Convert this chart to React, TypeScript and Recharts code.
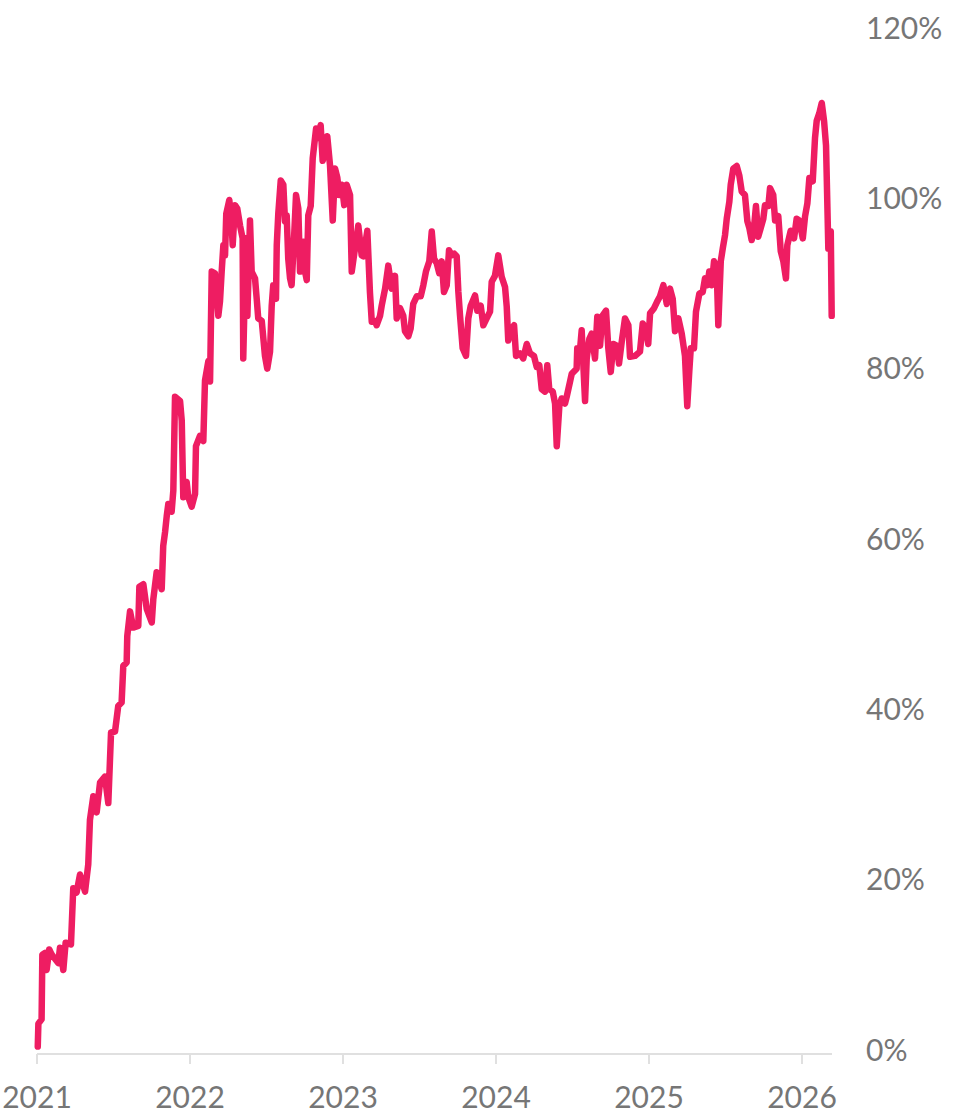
import { LineChart, Line, XAxis, YAxis } from "recharts";

// decimal years
const years = [
  2021.005, 2021.009, 2021.03, 2021.035, 2021.052, 2021.063, 2021.08, 2021.096, 2021.139, 2021.15,
  2021.172, 2021.187, 2021.222, 2021.237, 2021.259, 2021.281, 2021.314, 2021.335, 2021.346, 2021.368,
  2021.39, 2021.412, 2021.444, 2021.466, 2021.484, 2021.51, 2021.531, 2021.553, 2021.564, 2021.586,
  2021.59, 2021.608, 2021.629, 2021.662, 2021.669, 2021.695, 2021.717, 2021.75, 2021.76, 2021.782,
  2021.815, 2021.825, 2021.837, 2021.848, 2021.858, 2021.88, 2021.891, 2021.902, 2021.935, 2021.946,
  2021.956, 2021.978, 2021.989, 2022.011, 2022.033, 2022.039, 2022.065, 2022.087, 2022.098, 2022.12,
  2022.131, 2022.142, 2022.163, 2022.185, 2022.196, 2022.207, 2022.218, 2022.229, 2022.237, 2022.257,
  2022.273, 2022.279, 2022.294, 2022.309, 2022.327, 2022.344, 2022.348, 2022.366, 2022.375, 2022.392,
  2022.403, 2022.425, 2022.436, 2022.446, 2022.469, 2022.49, 2022.505, 2022.523, 2022.534, 2022.544,
  2022.562, 2022.567, 2022.577, 2022.593, 2022.61, 2022.621, 2022.632, 2022.642, 2022.654, 2022.664,
  2022.68, 2022.693, 2022.708, 2022.719, 2022.741, 2022.752, 2022.763, 2022.773, 2022.789, 2022.802,
  2022.824, 2022.839, 2022.854, 2022.867, 2022.882, 2022.897, 2022.915, 2022.933, 2022.948, 2022.963,
  2022.976, 2022.992, 2023.008, 2023.024, 2023.046, 2023.057, 2023.072, 2023.1, 2023.122, 2023.133,
  2023.159, 2023.176, 2023.188, 2023.209, 2023.22, 2023.242, 2023.253, 2023.275, 2023.296, 2023.318,
  2023.34, 2023.351, 2023.373, 2023.394, 2023.405, 2023.427, 2023.442, 2023.459, 2023.482, 2023.508,
  2023.525, 2023.542, 2023.564, 2023.58, 2023.595, 2023.612, 2023.629, 2023.645, 2023.66, 2023.678,
  2023.693, 2023.71, 2023.727, 2023.743, 2023.754, 2023.765, 2023.782, 2023.804, 2023.819, 2023.835,
  2023.863, 2023.878, 2023.9, 2023.917, 2023.939, 2023.961, 2023.972, 2023.993, 2024.015, 2024.037,
  2024.059, 2024.07, 2024.08, 2024.103, 2024.118, 2024.131, 2024.157, 2024.178, 2024.201, 2024.222,
  2024.248, 2024.266, 2024.283, 2024.299, 2024.32, 2024.335, 2024.348, 2024.371, 2024.386, 2024.397,
  2024.414, 2024.429, 2024.451, 2024.462, 2024.484, 2024.495, 2024.527, 2024.531, 2024.544, 2024.56,
  2024.582, 2024.593, 2024.61, 2024.625, 2024.647, 2024.662, 2024.68, 2024.695, 2024.719, 2024.734,
  2024.75, 2024.767, 2024.789, 2024.804, 2024.822, 2024.843, 2024.865, 2024.876, 2024.908, 2024.941,
  2024.959, 2024.98, 2024.995, 2025.007, 2025.033, 2025.054, 2025.072, 2025.094, 2025.116, 2025.137,
  2025.155, 2025.17, 2025.192, 2025.214, 2025.235, 2025.25, 2025.263, 2025.273, 2025.294, 2025.307,
  2025.329, 2025.351, 2025.366, 2025.381, 2025.394, 2025.41, 2025.425, 2025.442, 2025.453, 2025.469,
  2025.482, 2025.497, 2025.508, 2025.525, 2025.534, 2025.551, 2025.573, 2025.59, 2025.606, 2025.627,
  2025.643, 2025.656, 2025.671, 2025.686, 2025.699, 2025.714, 2025.73, 2025.747, 2025.758, 2025.78,
  2025.791, 2025.812, 2025.824, 2025.845, 2025.861, 2025.878, 2025.895, 2025.904, 2025.926, 2025.948,
  2025.965, 2025.982, 2026.005, 2026.02, 2026.035, 2026.048, 2026.07, 2026.085, 2026.096, 2026.113,
  2026.129, 2026.144, 2026.157, 2026.172, 2026.188, 2026.194,
];

// cumulative return, %
const returns = [
  0.4, 3.1, 3.6, 11.2, 11.4, 9.4, 11.8, 11.2, 10.2, 12.0,
  9.4, 12.6, 12.4, 19.0, 18.5, 20.6, 18.6, 21.8, 27.0, 29.8,
  27.9, 31.4, 32.1, 29.0, 37.3, 37.4, 40.4, 40.8, 45.1, 45.5,
  48.6, 51.5, 49.6, 49.8, 54.4, 54.7, 51.8, 50.2, 52.9, 56.1,
  54.1, 59.2, 60.8, 62.7, 64.1, 63.2, 65.7, 76.7, 76.2, 73.9,
  64.9, 66.7, 64.9, 63.8, 65.3, 70.9, 72.1, 71.5, 78.6, 80.9,
  78.5, 91.4, 91.2, 86.2, 87.9, 91.4, 94.5, 93.3, 98.2, 99.8,
  96.5, 94.5, 99.2, 98.8, 96.8, 95.3, 81.2, 95.3, 86.2, 97.4,
  91.4, 90.6, 88.2, 85.9, 85.6, 81.5, 80.0, 82.0, 87.4, 89.8,
  88.2, 94.5, 98.2, 102.1, 101.6, 97.3, 98.0, 92.9, 90.6, 89.8,
  95.3, 100.4, 98.8, 91.4, 94.9, 91.4, 90.4, 98.0, 99.1, 104.7,
  108.2, 107.1, 108.6, 104.4, 105.3, 107.3, 103.9, 97.4, 103.5, 102.4,
  100.4, 101.6, 99.2, 101.6, 100.4, 91.4, 93.3, 96.8, 93.3, 93.2,
  96.2, 89.0, 85.5, 85.6, 85.1, 86.2, 87.4, 89.4, 92.1, 89.4,
  90.9, 85.9, 87.1, 86.2, 84.4, 83.8, 84.7, 87.6, 88.5, 88.5,
  89.8, 91.4, 92.6, 96.1, 92.9, 92.4, 91.2, 92.6, 89.0, 89.8,
  93.9, 93.3, 93.5, 93.2, 89.0, 86.2, 82.4, 81.5, 85.9, 87.4,
  88.6, 86.8, 87.4, 85.1, 85.9, 86.7, 90.2, 90.9, 93.3, 90.8,
  89.6, 87.3, 83.3, 84.7, 85.1, 81.5, 81.8, 81.2, 82.9, 81.8,
  81.5, 80.2, 80.4, 77.6, 77.3, 80.4, 77.6, 77.3, 75.9, 70.9,
  75.6, 76.5, 75.9, 76.7, 78.5, 79.4, 80.0, 82.4, 81.2, 84.5,
  76.2, 81.2, 83.5, 84.1, 81.2, 86.1, 82.7, 86.2, 86.8, 82.4,
  79.6, 82.9, 82.7, 80.6, 83.2, 85.9, 85.1, 81.4, 81.5, 82.0,
  85.3, 84.7, 82.9, 86.5, 87.1, 87.9, 88.5, 89.8, 87.6, 89.4,
  88.2, 84.4, 85.9, 84.1, 81.5, 75.6, 79.6, 82.4, 82.4, 86.7,
  88.8, 89.0, 90.6, 89.8, 91.4, 89.8, 92.6, 91.8, 85.1, 92.6,
  94.1, 95.7, 97.6, 99.6, 101.6, 103.5, 103.8, 102.7, 100.8, 100.4,
  97.3, 96.5, 95.1, 96.5, 99.1, 95.5, 96.5, 97.6, 99.2, 99.1,
  101.2, 100.4, 97.4, 97.9, 93.8, 92.6, 90.6, 94.5, 96.2, 95.3,
  97.6, 97.4, 95.3, 97.9, 99.4, 102.4, 102.0, 107.1, 109.1, 110.0,
  111.2, 109.1, 106.2, 94.1, 96.1, 86.2,
];

const yearTicks = [2021, 2022, 2023, 2024, 2025, 2026];
const pctTicks = [0, 20, 40, 60, 80, 100, 120];

const data = years.map((t, i) => ({ t, v: returns[i] }));

const tickStyle = { fill: "#767676", fontSize: 30, fontFamily: "Lato" };

const App = () => {
  return (
    <div style={{ position: "absolute", left: 0, top: 0, background: "#fff" }}>
      <LineChart
        width={953}
        height={1115}
        data={data}
        margin={{ top: 28, right: 0, bottom: 0, left: 37 }}
      >
        <XAxis
          dataKey="t"
          type="number"
          domain={[2021, 2026.196]}
          ticks={yearTicks}
          interval={0}
          height={61}
          axisLine={{ stroke: "#e0e0e0", strokeWidth: 2 }}
          tickLine={{ stroke: "#e0e0e0", strokeWidth: 2 }}
          tickSize={10}
          tickMargin={23}
          tick={tickStyle}
        />
        <YAxis
          orientation="right"
          type="number"
          domain={[-0.47, 120]}
          ticks={pctTicks}
          interval={0}
          width={121}
          axisLine={false}
          tickLine={false}
          tickSize={6}
          tickMargin={28}
          tickFormatter={(v) => `${v}%`}
          tick={{ ...tickStyle, textAnchor: "start" }}
          allowDataOverflow
        />
        <Line
          type="linear"
          dataKey="v"
          stroke="#ee1d62"
          strokeWidth={6.5}
          strokeLinejoin="round"
          strokeLinecap="round"
          dot={false}
          isAnimationActive={false}
        />
      </LineChart>
    </div>
  );
};

export default App;
